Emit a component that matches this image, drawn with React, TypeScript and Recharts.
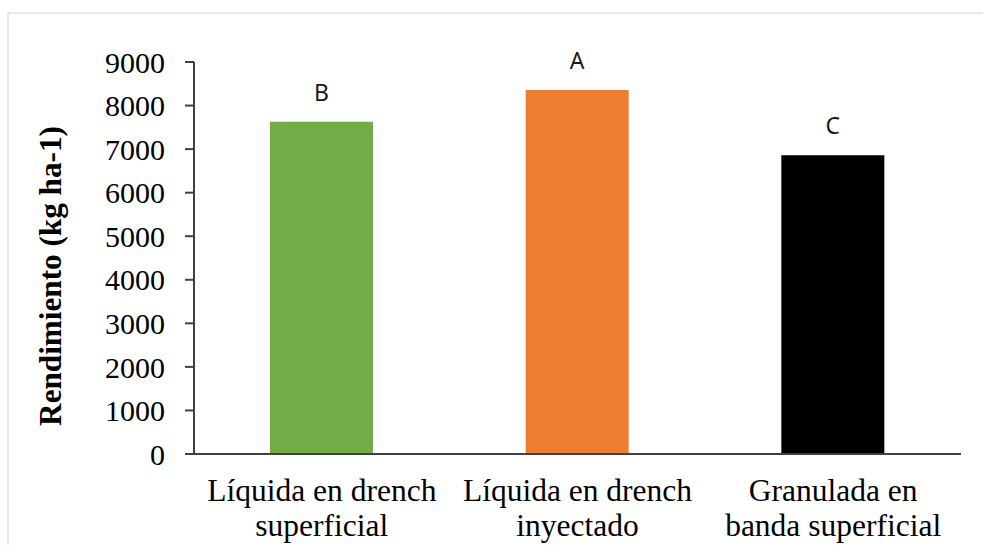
import { BarChart, Bar, XAxis, YAxis, Cell, LabelList, Label } from 'recharts'

const categorias = ['Líquida en drench\nsuperficial', 'Líquida en drench\ninyectado', 'Granulada en\nbanda superficial']
const rendimiento = [7630, 8360, 6860]
const letras = ['B', 'A', 'C']
const colores = ['#70ad47', '#ed7d31', '#000000']
const yTicks = [0, 1000, 2000, 3000, 4000, 5000, 6000, 7000, 8000, 9000]
const bordes = [0, 1, 2, 3]

const data = categorias.map((c, i) => ({ name: c, valor: rendimiento[i], letra: letras[i] }))

const SERIF = '"Liberation Serif", "Times New Roman", serif'

function CategoryTick(props: any) {
  const { x, y, payload } = props
  const lines = String(payload.value).split('\n')
  return (
    <text x={x} y={y} textAnchor="middle" fontFamily={SERIF} fontSize={31.5} fill="#000">
      {lines.map((l, i) => (
        <tspan key={i} x={x} dy={i === 0 ? 33 : 35}>
          {l}
        </tspan>
      ))}
    </text>
  )
}

function YTitle(props: any) {
  const { viewBox } = props
  const cx = viewBox.x + 50
  const cy = viewBox.y + viewBox.height / 2 + 18
  return (
    <text
      x={cx}
      y={cy}
      transform={`rotate(-90, ${cx}, ${cy})`}
      textAnchor="middle"
      dominantBaseline="central"
      fontFamily={SERIF}
      fontWeight="bold"
      fontSize={31.2}
      fill="#000"
    >
      Rendimiento (kg ha-1)
    </text>
  )
}

export default function App() {
  return (
    <div style={{ position: 'fixed', left: 0, top: 0, width: 983, height: 545, overflow: 'hidden', background: '#fff' }}>
      <div
        style={{
          position: 'absolute',
          left: 7,
          top: 12,
          width: 1100,
          height: 700,
          border: '2px solid #e6e9ee',
        }}
      />
      <div style={{ position: 'absolute', left: 0, top: 0 }}>
        <BarChart width={983} height={545} data={data} margin={{ top: 62, right: 22, bottom: 0, left: 0 }}>
          {/* boundary ticks between categories */}
          <XAxis
            xAxisId="lim"
            type="number"
            domain={[0, 3]}
            ticks={bordes}
            height={0}
            tick={false}
            axisLine={false}
            tickSize={9}
            tickLine={{ stroke: '#404040', strokeWidth: 2 }}
          />
          <XAxis
            xAxisId="cat"
            dataKey="name"
            height={91}
            interval={0}
            tickLine={false}
            axisLine={{ stroke: '#404040', strokeWidth: 2 }}
            tick={<CategoryTick />}
            tickMargin={8}
          />
          <YAxis
            width={194}
            domain={[0, 9000]}
            ticks={yTicks}
            interval={0}
            tickSize={9}
            tickMargin={20}
            axisLine={{ stroke: '#404040', strokeWidth: 2 }}
            tickLine={{ stroke: '#404040', strokeWidth: 2 }}
            tick={{ fontFamily: SERIF, fontSize: 30, fill: '#000' }}
          >
            <Label content={<YTitle />} />
          </YAxis>
          <Bar xAxisId="cat" dataKey="valor" barSize={103} isAnimationActive={false}>
            {data.map((d, i) => (
              <Cell key={d.letra} fill={colores[i]} />
            ))}
            <LabelList
              dataKey="letra"
              position="top"
              offset={21}
              fontFamily='"Noto Sans", sans-serif'
              fontSize={23}
              fill="#1a1a1a"
            />
          </Bar>
        </BarChart>
      </div>
    </div>
  )
}
